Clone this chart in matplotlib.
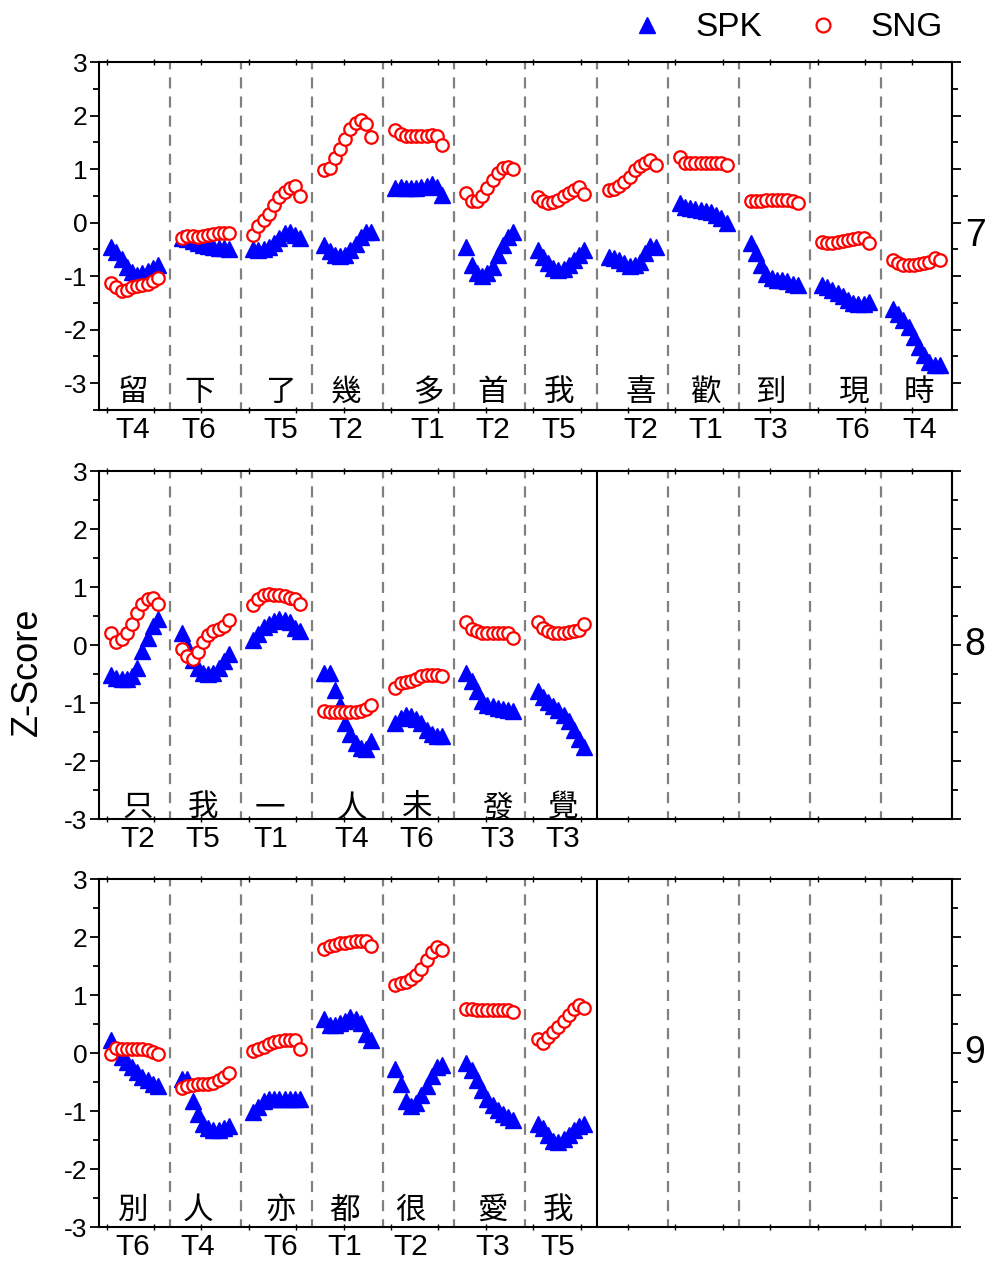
import matplotlib
matplotlib.use('Agg')
import matplotlib.pyplot as plt
import numpy as np
from matplotlib.lines import Line2D
from matplotlib.transforms import blended_transform_factory

plt.rcParams['font.family'] = ['Liberation Sans', 'DejaVu Sans']
plt.rcParams['axes.unicode_minus'] = False
cjk = ['Noto Sans CJK TC', 'DejaVu Sans']
narrow = ['Liberation Sans Narrow', 'Liberation Sans', 'DejaVu Sans']

# ---- datos: panel 7 ----
syll_7 = ['留', '下', '了', '幾', '多', '首', '我', '喜', '歡', '到', '現', '時']
tone_7 = ['T4', 'T6', 'T5', 'T2', 'T1', 'T2', 'T5', 'T2', 'T1', 'T3', 'T6', 'T4']
spk_7 = [
    [-0.45, -0.55, -0.68, -0.82, -0.93, -0.97, -0.95, -0.90, -0.85, -0.80],
    [-0.28, -0.31, -0.35, -0.39, -0.42, -0.44, -0.46, -0.47, -0.48, -0.50],
    [-0.50, -0.51, -0.49, -0.45, -0.39, -0.29, -0.20, -0.17, -0.23, -0.29],
    [-0.42, -0.53, -0.60, -0.62, -0.60, -0.52, -0.40, -0.27, -0.17, -0.17],
    [0.65, 0.66, 0.65, 0.64, 0.65, 0.67, 0.69, 0.72, 0.66, 0.52],
    [-0.45, -0.80, -0.95, -1.00, -0.95, -0.82, -0.60, -0.42, -0.27, -0.18],
    [-0.51, -0.64, -0.76, -0.85, -0.89, -0.86, -0.79, -0.70, -0.60, -0.51],
    [-0.64, -0.67, -0.70, -0.76, -0.81, -0.80, -0.73, -0.57, -0.43, -0.45],
    [0.36, 0.30, 0.27, 0.25, 0.24, 0.22, 0.19, 0.14, 0.08, -0.01],
    [-0.39, -0.57, -0.79, -0.96, -1.04, -1.07, -1.08, -1.10, -1.14, -1.17],
    [-1.17, -1.21, -1.26, -1.32, -1.38, -1.45, -1.50, -1.52, -1.52, -1.48],
    [-1.62, -1.70, -1.82, -1.95, -2.13, -2.32, -2.47, -2.60, -2.66, -2.66],
]
sng_7 = [
    [-1.12, -1.21, -1.27, -1.25, -1.21, -1.19, -1.17, -1.14, -1.09, -1.03],
    [-0.29, -0.25, -0.25, -0.26, -0.25, -0.23, -0.21, -0.20, -0.19, -0.20],
    [-0.23, -0.06, 0.05, 0.17, 0.33, 0.48, 0.58, 0.64, 0.68, 0.50],
    [0.98, 1.02, 1.20, 1.38, 1.57, 1.75, 1.87, 1.92, 1.85, 1.60],
    [1.73, 1.65, 1.62, 1.61, 1.61, 1.62, 1.62, 1.64, 1.62, 1.45],
    [0.56, 0.41, 0.41, 0.50, 0.65, 0.79, 0.93, 1.02, 1.04, 1.00],
    [0.48, 0.41, 0.37, 0.39, 0.43, 0.50, 0.55, 0.60, 0.66, 0.54],
    [0.61, 0.63, 0.69, 0.76, 0.86, 0.98, 1.06, 1.12, 1.17, 1.08],
    [1.22, 1.12, 1.11, 1.11, 1.11, 1.11, 1.11, 1.11, 1.11, 1.07],
    [0.41, 0.41, 0.41, 0.42, 0.42, 0.43, 0.43, 0.42, 0.41, 0.36],
    [-0.37, -0.39, -0.38, -0.37, -0.35, -0.33, -0.31, -0.29, -0.29, -0.39],
    [-0.69, -0.76, -0.79, -0.79, -0.79, -0.78, -0.76, -0.73, -0.67, -0.69],
]

# ---- datos: panel 8 ----
syll_8 = ['只', '我', '一', '人', '未', '發', '覺']
tone_8 = ['T2', 'T5', 'T1', 'T4', 'T6', 'T3', 'T3']
spk_8 = [
    [-0.51, -0.56, -0.59, -0.58, -0.53, -0.39, -0.10, 0.13, 0.33, 0.45],
    [0.21, -0.02, -0.25, -0.39, -0.48, -0.50, -0.48, -0.39, -0.28, -0.16],
    [0.08, 0.19, 0.31, 0.37, 0.42, 0.45, 0.44, 0.40, 0.30, 0.25],
    [-0.48, -0.48, -0.77, -1.03, -1.34, -1.54, -1.69, -1.78, -1.80, -1.66],
    [-1.34, -1.26, -1.21, -1.23, -1.27, -1.34, -1.46, -1.54, -1.56, -1.57],
    [-0.48, -0.62, -0.80, -0.97, -1.03, -1.05, -1.08, -1.10, -1.12, -1.14],
    [-0.80, -0.89, -0.99, -1.05, -1.12, -1.20, -1.31, -1.46, -1.62, -1.76],
]
sng_8 = [
    [0.21, 0.05, 0.10, 0.21, 0.37, 0.55, 0.70, 0.80, 0.82, 0.70],
    [-0.06, -0.19, -0.24, -0.12, 0.05, 0.18, 0.24, 0.28, 0.33, 0.44],
    [0.69, 0.80, 0.87, 0.88, 0.87, 0.86, 0.85, 0.82, 0.79, 0.70],
    [-1.14, -1.16, -1.16, -1.16, -1.16, -1.16, -1.16, -1.14, -1.10, -1.04],
    [-0.74, -0.66, -0.64, -0.62, -0.59, -0.54, -0.51, -0.51, -0.52, -0.53],
    [0.39, 0.28, 0.24, 0.21, 0.21, 0.21, 0.21, 0.21, 0.20, 0.13],
    [0.39, 0.30, 0.24, 0.21, 0.20, 0.21, 0.22, 0.24, 0.26, 0.36],
]

# ---- datos: panel 9 ----
syll_9 = ['別', '人', '亦', '都', '很', '愛', '我']
tone_9 = ['T6', 'T4', 'T6', 'T1', 'T2', 'T3', 'T5']
spk_9 = [
    [0.22, 0.05, -0.07, -0.16, -0.24, -0.33, -0.41, -0.47, -0.53, -0.56],
    [-0.44, -0.44, -0.82, -1.05, -1.22, -1.30, -1.33, -1.33, -1.30, -1.26],
    [-1.02, -0.93, -0.83, -0.79, -0.79, -0.79, -0.80, -0.80, -0.80, -0.79],
    [0.59, 0.48, 0.48, 0.51, 0.56, 0.62, 0.58, 0.52, 0.33, 0.22],
    [-0.27, -0.53, -0.82, -0.91, -0.87, -0.73, -0.56, -0.39, -0.24, -0.21],
    [-0.18, -0.30, -0.47, -0.64, -0.79, -0.90, -0.99, -1.05, -1.10, -1.16],
    [-1.22, -1.30, -1.42, -1.51, -1.53, -1.49, -1.42, -1.33, -1.25, -1.22],
]
sng_9 = [
    [-0.01, 0.09, 0.07, 0.07, 0.07, 0.07, 0.07, 0.06, 0.02, -0.01],
    [-0.60, -0.56, -0.55, -0.53, -0.53, -0.53, -0.51, -0.47, -0.41, -0.34],
    [0.03, 0.07, 0.11, 0.15, 0.19, 0.21, 0.22, 0.22, 0.22, 0.07],
    [1.80, 1.84, 1.87, 1.89, 1.90, 1.91, 1.93, 1.94, 1.94, 1.84],
    [1.17, 1.20, 1.22, 1.28, 1.34, 1.45, 1.60, 1.74, 1.83, 1.77],
    [0.76, 0.76, 0.75, 0.74, 0.74, 0.74, 0.74, 0.74, 0.74, 0.70],
    [0.25, 0.18, 0.28, 0.36, 0.45, 0.55, 0.65, 0.76, 0.82, 0.78],
]

# posicion de las etiquetas dentro de cada casilla (layout)
pos_7 = [0.48, 0.41, 0.56, 0.475, 0.63, 0.54, 0.47, 0.625, 0.53, 0.45, 0.61, 0.54]
pos_8 = [0.55, 0.46, 0.41, 0.56, 0.47, 0.61, 0.53]
pos_9 = [0.48, 0.39, 0.55, 0.46, 0.38, 0.54, 0.46]

panels = [
    ('7', syll_7, tone_7, spk_7, sng_7, pos_7, -3.5, 0.6754, 0.006),
    ('8', syll_8, tone_8, spk_8, sng_8, pos_8, -3.0, 0.3515, -0.012),
    ('9', syll_9, tone_9, spk_9, sng_9, pos_9, -3.0, 0.0285, 0.004),
]

fig = plt.figure(figsize=(9.93, 12.63), dpi=100)
offs = np.linspace(0.17, 0.83, 10)

for name, syll, tone, spk, sng, pos, ymin, bottom, ychar in panels:
    ax = fig.add_axes([0.0997, bottom, 0.859, 0.2755])
    n = len(syll)
    ax.set_xlim(0, 12)
    ax.set_ylim(ymin, 3)

    # separadores
    for i in range(1, 12):
        if i == n:
            ax.axvline(i, color='black', lw=1.5, zorder=1)
        else:
            ax.axvline(i, color='#808080', lw=1.6, ls=(1.5, (5.0, 3.6)), zorder=1)

    xs = np.concatenate([j + offs for j in range(n)])
    ax.plot(xs, np.concatenate(spk), ls='none', marker='^', ms=11,
            color='#0000ff', mec='#0000ff', zorder=3)
    ax.plot(xs, np.concatenate(sng), ls='none', marker='o', ms=9,
            mfc='white', mec='#ff0000', mew=1.6, zorder=4)

    # silabas
    trans = blended_transform_factory(ax.transData, ax.transAxes)
    for j in range(n):
        ax.text(j + pos[j], ychar, syll[j], transform=trans, ha='center',
                va='bottom', fontsize=22, family=cjk)

    ax.set_xticks([j + pos[j] for j in range(n)])
    ax.set_xticklabels(tone, family=narrow, fontsize=21.5)
    ax.tick_params(axis='x', which='major', length=0, pad=4.5)
    ax.set_xticks(np.arange(0.108, 12, 2 / 3), minor=True)
    ax.tick_params(axis='x', which='minor', direction='inout', length=5,
                   width=1, top=True, bottom=True)

    ax.set_yticks(np.arange(-3, 4, 1))
    ax.set_yticks(np.arange(ymin, 3.01, 0.5), minor=True)
    ax.tick_params(axis='y', which='major', labelsize=19, length=6.5,
                   width=1.3, direction='out', right=True, pad=2)
    ax.tick_params(axis='y', which='minor', length=4, width=1.3,
                   direction='out', right=True)
    ax.tick_params(axis='y', which='both', labelright=False)
    for sp in ax.spines.values():
        sp.set_linewidth(1.5)

    ax.text(1.027, 0.5, name, transform=ax.transAxes, fontsize=27,
            ha='center', va='center')

fig.text(27 / 993, 1 - 672 / 1263, 'Z-Score', rotation=90, fontsize=26,
         ha='center', va='center')

h1 = Line2D([], [], ls='none', marker='^', ms=12, color='#0000ff')
h2 = Line2D([], [], ls='none', marker='o', ms=10, mfc='white',
            mec='#ff0000', mew=1.6)
fig.legend([h1, h2], ['SPK', 'SNG'], loc='upper right',
           bbox_to_anchor=(0.98, 1.014), ncol=2, frameon=False, fontsize=24,
           handlelength=1.0, handletextpad=0.95, columnspacing=1.3)

fig.savefig('out.png', dpi=100)
